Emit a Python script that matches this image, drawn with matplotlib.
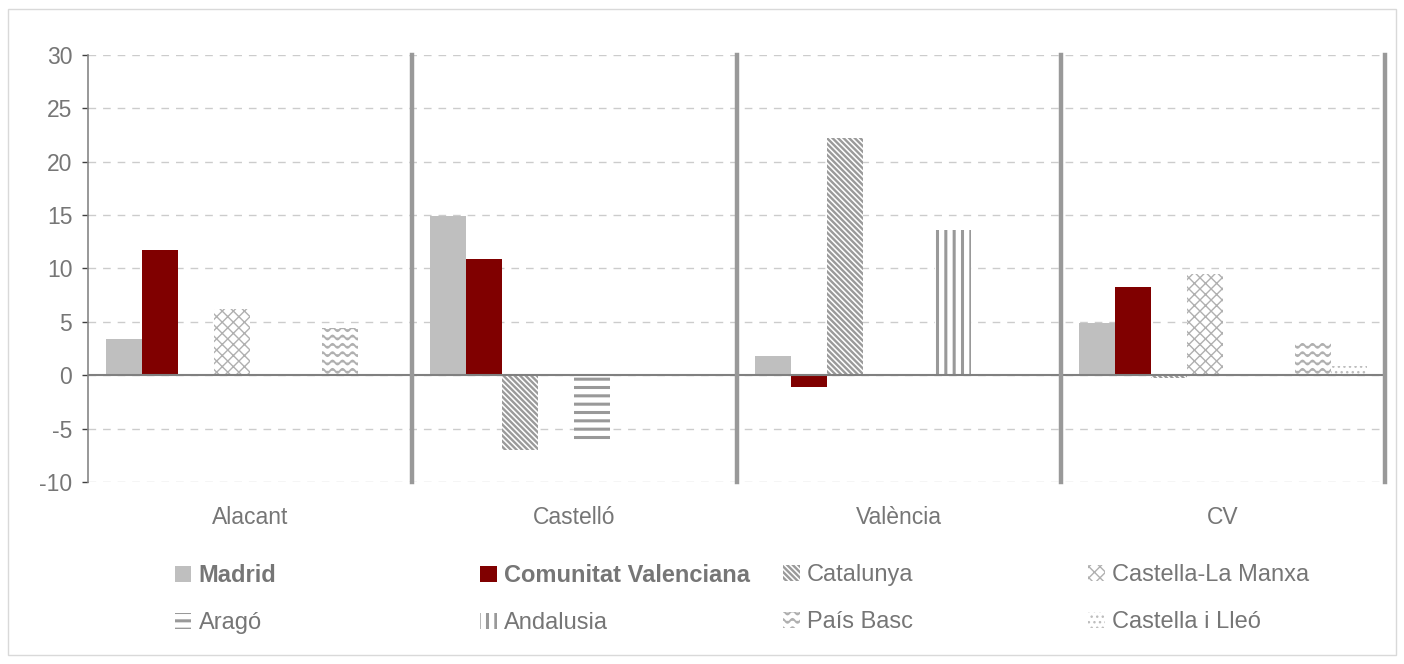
import warnings
import numpy as np
import matplotlib
matplotlib.use("Agg")
import matplotlib.pyplot as plt
from matplotlib import hatch as mhatch
from matplotlib.path import Path
from matplotlib.patches import Rectangle

warnings.filterwarnings("ignore")

# Data
groups = ["Alacant", "Castelló", "València", "CV"]
regions = ["Madrid", "Comunitat Valenciana", "Catalunya", "Castella-La Manxa",
           "Aragó", "Andalusia", "País Basc", "Castella i Lleó"]
madrid = [3.4, 14.9, 1.8, 4.9]
com_valenciana = [11.7, 10.9, -1.1, 8.3]
catalunya = [0, -7.0, 22.2, -0.3]
castella_la_manxa = [6.2, 0, 0, 9.5]
arago = [0, -6.1, 0, 0]
andalusia = [0, 0, 13.6, 0]
pais_basc = [4.4, 0, 0, 3.0]
castella_i_lleo = [0, 0, 0, 0.9]
yticks = [-10, -5, 0, 5, 10, 15, 20, 25, 30]


# custom wavy hatch for País Basc ('~')
class WaveHatch(mhatch.HatchPatternBase):
    def __init__(self, hatch, density):
        self.num_rows = int(hatch.count('~') * density * 2)
        self.pts = 121
        self.num_vertices = self.num_rows * self.pts

    def set_vertices_and_codes(self, vertices, codes):
        x = np.linspace(0, 1, self.pts)
        for i in range(self.num_rows):
            y0 = (i + 0.5) / self.num_rows
            s = slice(i * self.pts, (i + 1) * self.pts)
            vertices[s, 0] = x
            vertices[s, 1] = y0 + 0.02 * np.sin(2 * np.pi * 10 * x)
            codes[s] = Path.LINETO
            codes[i * self.pts] = Path.MOVETO


mhatch._hatch_types.append(WaveHatch)


def hatch_lw(artist, lw):
    # set the hatch line width whichever way this matplotlib reads it
    if hasattr(artist, "set_hatch_linewidth"):
        artist.set_hatch_linewidth(lw)
    artist._hatch_linewidth = lw
    orig = artist.draw

    def draw(renderer):
        with plt.rc_context({'hatch.linewidth': lw}):
            orig(renderer)
    artist.draw = draw


series = [madrid, com_valenciana, catalunya, castella_la_manxa,
          arago, andalusia, pais_basc, castella_i_lleo]
# (facecolor, edge/hatch color, hatch, hatch linewidth)
styles = [
    ("#bfbfbf", "#bfbfbf", None, 1.0),
    ("#800000", "#800000", None, 1.0),
    ("white", "#9a9a9a", "\\" * 6, 1.7),
    ("white", "#b0b0b0", "xxx", 1.0),
    ("white", "#999999", "--", 2.2),
    ("white", "#999999", "||", 2.2),
    ("white", "#b0b0b0", "~", 1.3),
    ("white", "#bdbdbd", "...", 1.0),
]

plt.rcParams['font.family'] = ['Liberation Sans', 'DejaVu Sans']
plt.rcParams['axes.unicode_minus'] = False
grey_txt = "#767676"

fig = plt.figure(figsize=(14.04, 6.64), dpi=100)
ax = fig.add_axes([0.0627, 0.2741, 0.9238, 0.6431])

x = np.arange(len(groups))
width = 1 / 9
handles = []
for j, (vals, (fc, ec, hatch, hlw)) in enumerate(zip(series, styles)):
    with plt.rc_context({'hatch.linewidth': hlw}):
        bars = ax.bar(x + (j - 3.5) * width, vals, width, color=fc,
                      edgecolor=ec, hatch=hatch, linewidth=0, zorder=2,
                      label=regions[j])
    for b in bars:
        hatch_lw(b, hlw)
    handles.append(bars)

ax.set_xlim(-0.5, 3.5)
ax.set_ylim(-10, 30)
ax.set_yticks(yticks)
ax.set_xticks(x)
ax.set_xticklabels(groups)
ax.tick_params(axis='x', length=0, pad=17.5, labelsize=16.5, labelcolor=grey_txt)
ax.tick_params(axis='y', length=4.3, width=1, color="#404040", pad=7,
               labelsize=16.5, labelcolor=grey_txt)

ax.grid(axis='y', color="#cccccc", linestyle=(0, (5.5, 5)), linewidth=1)
ax.set_axisbelow(True)
for s in ["top", "right", "bottom"]:
    ax.spines[s].set_visible(False)
ax.spines["left"].set_color("#868686")
ax.spines["left"].set_linewidth(1.2)

# zero line and group separators
ax.axhline(0, color="#808080", linewidth=1.5, zorder=3)
for b in [0.5, 1.5, 2.5, 3.5]:
    ax.axvline(b, color="#999999", linewidth=3.2, zorder=3, clip_on=False)

# legend: four columns of two entries each
col_x = [0.1246, 0.3419, 0.5577, 0.775]
for k in range(4):
    leg = fig.legend([handles[k], handles[k + 4]], [regions[k], regions[k + 4]],
                     loc="upper left", bbox_to_anchor=(col_x[k], 0.150),
                     frameon=False, fontsize=17, labelcolor=grey_txt,
                     handlelength=0.7, handleheight=0.7, handletextpad=0.3,
                     labelspacing=1.05, borderpad=0, borderaxespad=0)
    for h, idx in zip(leg.legend_handles, [k, k + 4]):
        hatch_lw(h, styles[idx][3])
    if k < 2:
        leg.get_texts()[0].set_fontweight("bold")

# light outer frame
fig.patches.append(Rectangle((0.0057, 0.0136), 0.9886, 0.973,
                             transform=fig.transFigure, fill=False,
                             edgecolor="#d9d9d9", linewidth=1))

fig.savefig("out.png", dpi=100)
